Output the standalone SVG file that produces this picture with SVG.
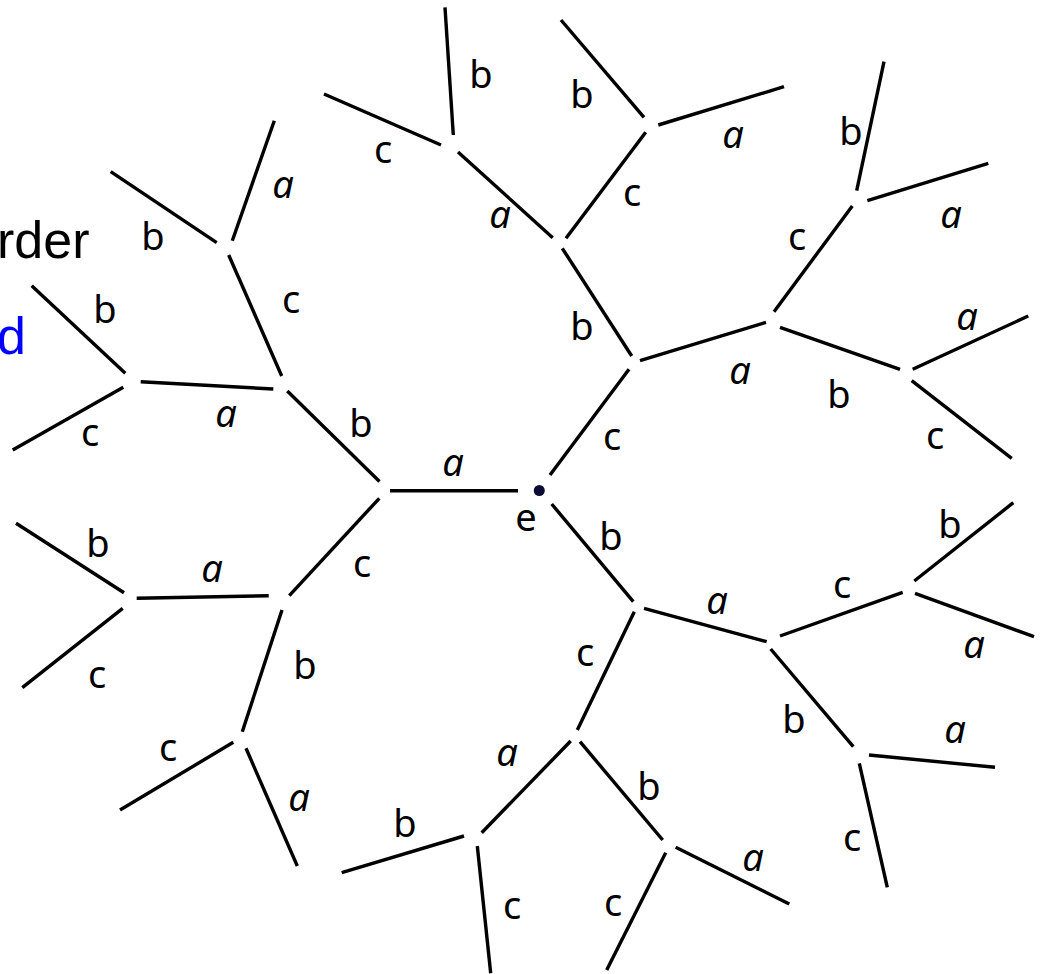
<svg xmlns="http://www.w3.org/2000/svg" width="1047" height="974" viewBox="0 0 1047 974">
<style>
.e{stroke:#000;stroke-width:3.4;fill:none;stroke-linecap:butt}
.l{font-family:"Noto Sans","DejaVu Sans",sans-serif;font-size:38px;text-anchor:middle;fill:#000}
.a{font-style:italic}
.big{font-family:"Liberation Sans",Arial,sans-serif;font-size:52px}
</style>
<rect width="1047" height="974" fill="#fff"/>
<text class="big" x="-3" y="258" fill="#000">rder</text>
<text class="big" x="-3" y="354" fill="#0000ff">d</text>
<g id="connectors">
<line class="e" x1="445" y1="7.3" x2="453.3" y2="135"/>
<line class="e" x1="324" y1="94" x2="441" y2="145"/>
<line class="e" x1="458" y1="152" x2="552.7" y2="237.7"/>
<line class="e" x1="274.3" y1="120.7" x2="232.3" y2="240.7"/>
<line class="e" x1="110.7" y1="171.7" x2="216.7" y2="242.7"/>
<line class="e" x1="228.7" y1="255" x2="281.7" y2="376"/>
<line class="e" x1="31.7" y1="285.7" x2="125.3" y2="373.3"/>
<line class="e" x1="140.7" y1="381.7" x2="273.3" y2="389"/>
<line class="e" x1="123.3" y1="387.3" x2="12.7" y2="450"/>
<line class="e" x1="287.3" y1="391" x2="379.5" y2="481.5"/>
<line class="e" x1="561" y1="20" x2="644" y2="117.3"/>
<line class="e" x1="658.3" y1="125" x2="784" y2="86.7"/>
<line class="e" x1="645.7" y1="132.3" x2="566" y2="238.3"/>
<line class="e" x1="562.3" y1="248.3" x2="631.7" y2="356"/>
<line class="e" x1="640" y1="360.7" x2="766" y2="322.3"/>
<line class="e" x1="629" y1="369.3" x2="550" y2="475"/>
<line class="e" x1="774" y1="311.7" x2="852.3" y2="206"/>
<line class="e" x1="856.7" y1="190.7" x2="884" y2="61.7"/>
<line class="e" x1="867.3" y1="200.7" x2="988.3" y2="163.3"/>
<line class="e" x1="780" y1="327.3" x2="900" y2="369.3"/>
<line class="e" x1="912.7" y1="369.3" x2="1028.3" y2="316"/>
<line class="e" x1="911.7" y1="380.7" x2="1011.7" y2="458.3"/>
<line class="e" x1="390" y1="490.7" x2="518" y2="490.7"/>
<line class="e" x1="379.3" y1="498.3" x2="289.3" y2="595.7"/>
<line class="e" x1="268.7" y1="595.7" x2="136.7" y2="598.3"/>
<line class="e" x1="124" y1="592.7" x2="16" y2="523.3"/>
<line class="e" x1="122.7" y1="608.3" x2="22.3" y2="687.7"/>
<line class="e" x1="282" y1="610" x2="242.3" y2="731.7"/>
<line class="e" x1="233.3" y1="742.3" x2="120" y2="810"/>
<line class="e" x1="246" y1="748.3" x2="297.3" y2="866"/>
<line class="e" x1="464" y1="836" x2="341.7" y2="872.7"/>
<line class="e" x1="477.3" y1="846" x2="490.7" y2="973.3"/>
<line class="e" x1="481.7" y1="832.7" x2="570.7" y2="741"/>
<line class="e" x1="551.7" y1="504" x2="633.3" y2="601.7"/>
<line class="e" x1="644" y1="608.3" x2="766.7" y2="641.7"/>
<line class="e" x1="634.3" y1="611.7" x2="577.3" y2="730"/>
<line class="e" x1="780" y1="636" x2="902.7" y2="592.3"/>
<line class="e" x1="914.3" y1="581" x2="1013.3" y2="502.7"/>
<line class="e" x1="915" y1="593.3" x2="1034" y2="636.7"/>
<line class="e" x1="770.7" y1="649" x2="853.3" y2="746.7"/>
<line class="e" x1="869" y1="755" x2="995" y2="767.3"/>
<line class="e" x1="859.3" y1="763.3" x2="887.3" y2="887.3"/>
<line class="e" x1="580" y1="741.7" x2="662.7" y2="840"/>
<line class="e" x1="675.7" y1="847.3" x2="789.3" y2="904"/>
<line class="e" x1="665.7" y1="852.7" x2="606.7" y2="970"/>
</g>
<g id="node-e">
<circle cx="539.3" cy="490.5" r="5.5" fill="#0b0b36"/>
<text class="l" x="526" y="531">e</text>
</g>
<g id="labels">
<text class="l" x="481" y="88">b</text>
<text class="l" x="383" y="163">c</text>
<text class="l a" x="500" y="228">a</text>
<text class="l a" x="283" y="198">a</text>
<text class="l" x="153" y="250">b</text>
<text class="l" x="291" y="313">c</text>
<text class="l" x="105" y="323">b</text>
<text class="l a" x="226" y="427">a</text>
<text class="l" x="90" y="446">c</text>
<text class="l" x="361" y="437">b</text>
<text class="l a" x="453" y="476">a</text>
<text class="l" x="582" y="108">b</text>
<text class="l a" x="733" y="148">a</text>
<text class="l" x="632" y="206">c</text>
<text class="l" x="582" y="340">b</text>
<text class="l a" x="740" y="384">a</text>
<text class="l" x="612" y="450">c</text>
<text class="l" x="797" y="250">c</text>
<text class="l" x="851" y="145">b</text>
<text class="l a" x="951" y="228">a</text>
<text class="l" x="839" y="408">b</text>
<text class="l a" x="967" y="330">a</text>
<text class="l" x="935" y="449">c</text>
<text class="l" x="362" y="577">c</text>
<text class="l a" x="212" y="582">a</text>
<text class="l" x="98" y="557">b</text>
<text class="l" x="97" y="688">c</text>
<text class="l" x="305" y="679">b</text>
<text class="l" x="168" y="761">c</text>
<text class="l a" x="299" y="811">a</text>
<text class="l" x="405" y="837">b</text>
<text class="l" x="512" y="919">c</text>
<text class="l a" x="507" y="766">a</text>
<text class="l" x="611" y="550">b</text>
<text class="l a" x="717" y="614">a</text>
<text class="l" x="585" y="666">c</text>
<text class="l" x="842" y="598">c</text>
<text class="l" x="950" y="538">b</text>
<text class="l a" x="974" y="658">a</text>
<text class="l" x="794" y="733">b</text>
<text class="l a" x="955" y="743">a</text>
<text class="l" x="852" y="851">c</text>
<text class="l" x="649" y="800">b</text>
<text class="l a" x="753" y="871">a</text>
<text class="l" x="613" y="916">c</text>
</g>
</svg>
